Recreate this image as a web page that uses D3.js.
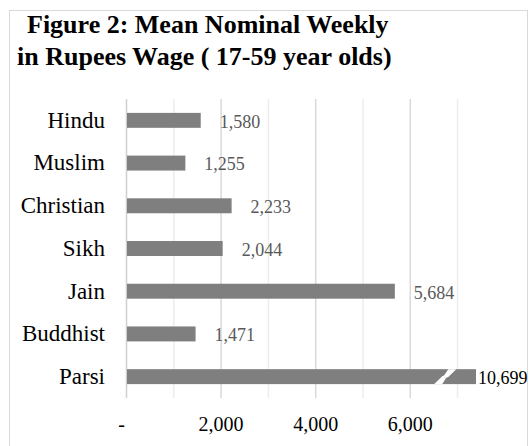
<!DOCTYPE html>
<html>
<head>
<meta charset="utf-8">
<script src="https://cdn.jsdelivr.net/npm/d3@7"></script>
<style>
  body { margin: 0; background: #fff; }
  svg { display: block; font-family: "Liberation Serif", "Times New Roman", serif; }
</style>
</head>
<body>
<div class="chart-container"></div>
<script>
// categories and values
const religions = ["Hindu", "Muslim", "Christian", "Sikh", "Jain", "Buddhist", "Parsi"]
const wages = [1580, 1255, 2233, 2044, 5684, 1471, 10699]

// axis: labelled ticks every 2000, light gridlines at the odd thousands
const majorTicks = [0, 2000, 4000, 6000]
const minorTicks = [1000, 3000, 5000, 7000]
const axisMax = 7400      // the Parsi bar is cut here
const breakAt = 6750      // where the break mark sits on the Parsi bar

const titleLines = ["Figure 2: Mean Nominal Weekly", "in Rupees Wage ( 17-59 year olds)"]

const width = 530, height = 446
const margin = {top: 99, right: 54, bottom: 48, left: 126}

const svg = d3.select(".chart-container").append("svg")
    .attr("width", width)
    .attr("height", height)

// outer frame
svg.append("rect")
    .attr("x", 9.5).attr("y", 10.5)
    .attr("width", 518).attr("height", 445)
    .attr("fill", "none")
    .attr("stroke", "#d9d9d9")

// title
svg.append("g").selectAll("text")
    .data(titleLines)
    .join("text")
    .attr("x", (d, i) => i === 0 ? 27 : 17)
    .attr("y", (d, i) => 33 + i * 32)
    .attr("font-size", 26)
    .attr("font-weight", "bold")
    .attr("fill", "#000")
    .text(d => d)

const x = d3.scaleLinear()
    .domain([0, axisMax])
    .range([margin.left, width - margin.right])

const y = d3.scaleBand()
    .domain(religions)
    .range([margin.top, height - margin.bottom])
    .paddingInner(0.65)
    .paddingOuter(0.325)

// gridlines
svg.append("g").selectAll("line")
    .data(minorTicks)
    .join("line")
    .attr("x1", d => x(d) + 0.5).attr("x2", d => x(d) + 0.5)
    .attr("y1", margin.top).attr("y2", height - margin.bottom)
    .attr("stroke", "#ededed")
    .attr("stroke-width", 1.5)

svg.append("g").selectAll("line")
    .data(majorTicks)
    .join("line")
    .attr("x1", d => x(d) + 0.5).attr("x2", d => x(d) + 0.5)
    .attr("y1", margin.top).attr("y2", height - margin.bottom)
    .attr("stroke", d => d === 0 ? "#cfcfcf" : "#d9d9d9")
    .attr("stroke-width", 1.5)

// bars
const data = religions.map((r, i) => ({religion: r, value: wages[i]}))

svg.append("g").selectAll("rect")
    .data(data)
    .join("rect")
    .attr("x", x(0) + 1)
    .attr("y", d => y(d.religion))
    .attr("width", d => x(Math.min(d.value, axisMax)) - x(0) - 1)
    .attr("height", y.bandwidth())
    .attr("fill", "#7f7f7f")

// break mark on the cut bar
const cut = data.filter(d => d.value > axisMax)
svg.append("g").selectAll("path")
    .data(cut)
    .join("path")
    .attr("fill", "#fff")
    .attr("d", d => {
        const x0 = x(breakAt), y0 = y(d.religion), h = y.bandwidth()
        return `M${x0 - 11},${y0 + h} L${x0 - 3},${y0 + h} L${x0 + 1},${y0 + h * 0.58}
                L${x0 + 3},${y0 + h * 0.52} L${x0 + 11},${y0} L${x0 + 3},${y0}
                L${x0 - 1},${y0 + h * 0.4} L${x0 - 3},${y0 + h * 0.48} Z`
    })

// value labels
svg.append("g").selectAll("text")
    .data(data)
    .join("text")
    .attr("x", d => d.value > axisMax ? x(axisMax) + 2 : x(d.value) + 19)
    .attr("y", d => y(d.religion) + y.bandwidth() / 2 + 1)
    .attr("dy", "0.35em")
    .attr("font-size", 18)
    .attr("fill", d => d.value > axisMax ? "#000" : "#595959")
    .text(d => d3.format(",")(d.value))

// category axis
svg.append("g")
    .attr("transform", `translate(${margin.left},0)`)
    .call(d3.axisLeft(y).tickSize(0).tickPadding(21))
    .attr("font-family", null)
    .attr("font-size", 23)
    .call(g => g.select(".domain").remove())
    .call(g => g.selectAll("text").attr("fill", "#000"))

// value axis
svg.append("g")
    .attr("transform", `translate(0,${height - margin.bottom})`)
    .call(d3.axisBottom(x)
        .tickValues(majorTicks)
        .tickFormat(d => d === 0 ? "-" : d3.format(",")(d))
        .tickSize(0)
        .tickPadding(19))
    .attr("font-family", null)
    .attr("font-size", 20)
    .call(g => g.select(".domain").remove())
    .call(g => g.selectAll("text").attr("fill", "#000"))
    .call(g => g.selectAll(".tick")
        .filter(d => d === 0)
        .select("text")
        .attr("x", -5))
</script>
</body>
</html>
